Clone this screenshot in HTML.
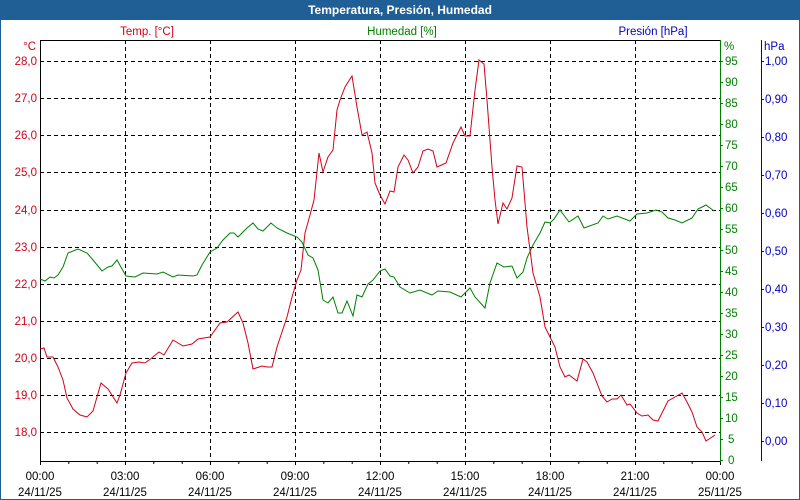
<!DOCTYPE html>
<html><head><meta charset="utf-8"><style>
html,body{margin:0;padding:0;background:#fff}
svg{display:block;font-family:"Liberation Sans",sans-serif;font-size:11.5px}
</style></head><body>
<svg width="800" height="500" viewBox="0 0 800 500" xmlns="http://www.w3.org/2000/svg">
<rect x="0" y="0" width="800" height="500" fill="#1f5f96"/>
<rect x="1" y="20" width="798" height="479" fill="#ffffff"/>
<text x="400" y="14" fill="#fff" font-weight="bold" font-size="12" text-anchor="middle">Temperatura, Presión, Humedad</text>
<g stroke="#000" stroke-dasharray="4,3" stroke-width="1">
<path d="M40 61.5H720M40 98.5H720M40 135.5H720M40 172.5H720M40 210.5H720M40 247.5H720M40 284.5H720M40 321.5H720M40 358.5H720M40 395.5H720M40 432.5H720"/>
<path d="M125.5 40V460M210.5 40V460M295.5 40V460M380.5 40V460M465.5 40V460M550.5 40V460M635.5 40V460"/>
</g>
<path d="M40.5 40V461.5H720M40 40.5H720" stroke="#000" fill="none"/>
<g stroke="#000"><path d="M40.5 461v4M68.8 461v3M97.2 461v3M125.5 461v4M153.8 461v3M182.2 461v3M210.5 461v4M238.8 461v3M267.2 461v3M295.5 461v4M323.8 461v3M352.2 461v3M380.5 461v4M408.8 461v3M437.2 461v3M465.5 461v4M493.8 461v3M522.2 461v3M550.5 461v4M578.8 461v3M607.2 461v3M635.5 461v4M663.8 461v3M692.2 461v3M720.5 461v4"/></g>
<g fill="#000" text-anchor="middle">
<text x="40" y="480">00:00</text><text x="40" y="496">24/11/25</text>
<text x="125" y="480">03:00</text><text x="125" y="496">24/11/25</text>
<text x="210" y="480">06:00</text><text x="210" y="496">24/11/25</text>
<text x="295" y="480">09:00</text><text x="295" y="496">24/11/25</text>
<text x="380" y="480">12:00</text><text x="380" y="496">24/11/25</text>
<text x="465" y="480">15:00</text><text x="465" y="496">24/11/25</text>
<text x="550" y="480">18:00</text><text x="550" y="496">24/11/25</text>
<text x="635" y="480">21:00</text><text x="635" y="496">24/11/25</text>
<text x="720" y="480">00:00</text><text x="720" y="496">25/11/25</text>
</g>
<g fill="#d0021b" text-anchor="end">
<text x="36" y="50">°C</text>
<text x="37" y="65">28,0</text><text x="37" y="102">27,0</text><text x="37" y="139">26,0</text><text x="37" y="176">25,0</text><text x="37" y="214">24,0</text><text x="37" y="251">23,0</text><text x="37" y="288">22,0</text><text x="37" y="325">21,0</text><text x="37" y="362">20,0</text><text x="37" y="399">19,0</text><text x="37" y="436">18,0</text>
</g>
<text x="147" y="35" fill="#d0021b" text-anchor="middle">Temp. [°C]</text>
<text x="402" y="35" fill="#008000" text-anchor="middle">Humedad [%]</text>
<text x="653" y="35" fill="#0000c0" text-anchor="middle">Presión [hPa]</text>
<path d="M720.5 40V462" stroke="#008000"/>
<g stroke="#008000"><path d="M720 61.5h3M720 82.5h3M720 103.5h3M720 124.5h3M720 145.5h3M720 166.5h3M720 187.5h3M720 208.5h3M720 229.5h3M720 250.5h3M720 271.5h3M720 292.5h3M720 313.5h3M720 334.5h3M720 355.5h3M720 376.5h3M720 397.5h3M720 418.5h3M720 439.5h3M720 460.5h3"/></g>
<g fill="#008000">
<text x="724" y="50">%</text>
<text x="725" y="65">95</text><text x="725" y="86">90</text><text x="725" y="107">85</text><text x="725" y="128">80</text><text x="725" y="149">75</text><text x="725" y="170">70</text><text x="725" y="191">65</text><text x="725" y="212">60</text><text x="725" y="233">55</text><text x="725" y="254">50</text><text x="725" y="275">45</text><text x="725" y="296">40</text><text x="725" y="317">35</text><text x="725" y="338">30</text><text x="725" y="359">25</text><text x="725" y="380">20</text><text x="725" y="401">15</text><text x="725" y="422">10</text><text x="728" y="443">5</text><text x="728" y="464">0</text>
</g>
<path d="M761.5 40V461" stroke="#0000c0"/>
<g stroke="#0000c0"><path d="M761 61.5h3M761 99.5h3M761 137.5h3M761 175.5h3M761 213.5h3M761 251.5h3M761 289.5h3M761 327.5h3M761 365.5h3M761 403.5h3M761 441.5h3"/></g>
<g fill="#0000c0">
<text x="764" y="50">hPa</text>
<text x="765" y="65">1,00</text><text x="765" y="103">0,90</text><text x="765" y="141">0,80</text><text x="765" y="179">0,70</text><text x="765" y="217">0,60</text><text x="765" y="255">0,50</text><text x="765" y="293">0,40</text><text x="765" y="331">0,30</text><text x="765" y="369">0,20</text><text x="765" y="407">0,10</text><text x="765" y="445">0,00</text>
</g>
<polyline fill="none" stroke="#008000" stroke-width="1" points="40,279 45,281 50,277 54,278 58,275 63,267 68,253 78,249 87,253 93,260 102,271 108,267 112,266 117,260 126,276 135,277 143,273 157,274 163,272 173,277 178,275 193,276 197,275 202,265 210,252 217,248 223,240 230,233 234,233 238,237 247,228 253,223 258,229 263,231 271,223 277,228 287,233 297,237 302,242 308,255 313,258 318,270 323,300 328,303 333,297 338,313 342,313 347,301 353,316 357,295 362,297 368,284 373,280 380,271 385,269 390,276 394,277 400,287 410,293 420,290 432,295 438,291 450,292 461,297 470,288 475,297 485,308 490,283 497,263 504,267 512,266 517,278 523,272 527,258 533,245 540,233 545,222 550,223 554,219 560,210 569,222 578,216 584,228 598,223 603,216 608,219 617,216 630,221 637,214 647,213 656,210 662,212 668,218 675,220 682,223 692,218 698,209 706,205 714,211"/>
<polyline fill="none" stroke="#d0021b" stroke-width="1" points="40,349 44,348 47,357 53,357 58,367 63,380 67,398 73,409 80,415 87,417 93,411 101,383 108,389 117,403 120,395 126,373 132,363 139,362 145,363 153,357 159,352 164,355 173,340 183,346 192,344 198,339 210,337 220,323 227,322 238,312 243,323 248,343 253,369 262,366 267,367 272,367 277,347 287,317 292,297 297,280 301,270 305,233 310,215 314,200 319,153 323,172 328,157 333,150 337,110 340,100 345,87 352,76 357,107 362,135 367,132 372,153 375,183 380,195 385,204 390,191 394,192 398,167 404,155 408,160 413,173 418,167 423,151 428,149 433,151 437,167 446,163 453,143 461,127 465,136 470,136 475,90 479,60 484,64 487,100 492,167 495,200 498,224 503,203 507,209 512,198 517,166 522,167 527,227 533,273 540,297 545,327 550,337 555,347 560,367 565,377 569,375 577,381 583,359 587,362 593,373 602,396 607,402 612,399 617,399 621,395 627,405 630,404 637,413 642,416 648,415 653,420 658,421 668,401 682,393 687,402 692,412 697,427 702,432 706,441 715,435"/>
</svg>
</body></html>
